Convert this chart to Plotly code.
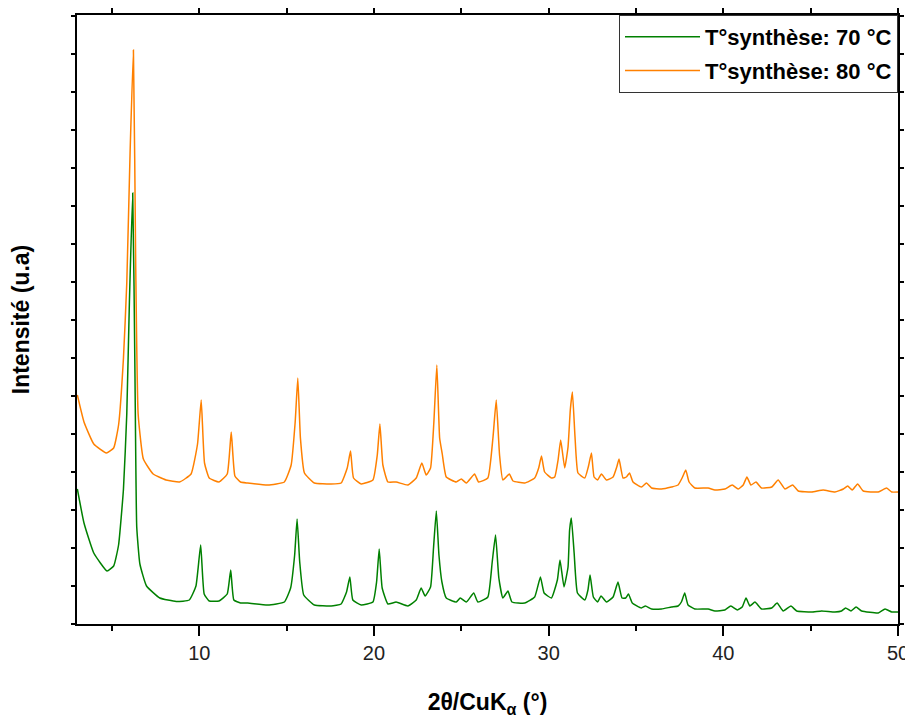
import plotly.graph_objects as go

# 2θ (°) and intensity (a.u.), synthesis at 70 °C
two_theta_70 = [3.02, 3.4, 3.96, 4.72, 5.1, 5.38, 5.66, 5.85, 6.0, 6.19, 6.32, 6.42, 6.6, 6.98, 7.74, 8.68,
                9.43, 9.81, 10.08, 10.28, 10.57, 11.13, 11.6, 11.8, 11.98, 12.36, 12.77, 13.92, 14.87, 15.23,
                15.46, 15.6, 15.75, 15.98, 16.59, 17.55, 18.12, 18.43, 18.62, 18.79, 19.27, 19.94, 20.15, 20.3,
                20.47, 20.8, 21.27, 21.94, 22.42, 22.7, 22.93, 23.24, 23.41, 23.57, 23.72, 23.89, 24.14, 24.71,
                24.94, 25.29, 25.71, 25.95, 26.52, 26.77, 26.96, 27.15, 27.38, 27.67, 27.9, 28.63, 29.2, 29.53,
                29.74, 30.16, 30.5, 30.65, 30.88, 31.11, 31.2, 31.3, 31.46, 31.65, 32.07, 32.25, 32.37, 32.56,
                32.8, 33.0, 33.31, 33.69, 33.97, 34.2, 34.41, 34.57, 34.79, 35.31, 35.54, 35.89, 36.46, 37.03,
                37.41, 37.6, 37.79, 37.98, 38.37, 39.13, 39.52, 40.09, 40.43, 40.81, 41.08, 41.3, 41.52, 41.81,
                42.19, 42.77, 43.08, 43.43, 43.87, 44.2, 45.06, 45.63, 46.39, 46.77, 47.0, 47.31, 47.6, 47.92,
                48.87, 49.26, 49.64, 50.0]
intensity_70 = [135, 101, 71, 53, 58, 79, 135, 210, 322, 431, 247, 97, 60, 38, 26, 22.5,
                24, 38, 79, 30, 23, 23, 30, 54, 24, 21, 21, 19, 22, 36,
                69, 105, 62, 29, 19, 18, 20, 32, 47, 24, 19, 22, 42, 75,
                36, 20, 22, 18, 24, 36, 28, 37, 76, 113, 69, 42, 26, 22,
                26, 22, 31, 22, 27, 62, 89, 46, 26, 33, 22, 21, 27, 47,
                31, 26, 44, 64, 37, 57, 94, 106, 71, 31, 24, 34, 49, 27,
                22, 28, 22, 27, 42, 26, 26, 30, 21, 16, 18, 15, 15, 17,
                18, 22, 31, 19, 15, 15, 13, 14, 18, 14, 17, 26, 18, 22,
                15, 16, 21, 13, 18, 13, 12, 13, 12, 13, 16, 13, 17, 13,
                11, 15, 12, 12]

# synthesis at 80 °C
two_theta_80 = [3.02, 3.4, 3.96, 4.68, 5.1, 5.38, 5.66, 5.85, 6.04, 6.23, 6.36, 6.5, 6.8, 7.36, 8.1, 8.87,
                9.53, 9.9, 10.11, 10.3, 10.57, 11.13, 11.6, 11.83, 12.04, 12.36, 12.77, 13.92, 14.87, 15.26,
                15.49, 15.64, 15.79, 16.02, 16.59, 17.55, 18.12, 18.47, 18.66, 18.83, 19.27, 19.94, 20.19, 20.34,
                20.51, 20.8, 21.27, 21.94, 22.42, 22.74, 22.99, 23.24, 23.43, 23.6, 23.76, 23.91, 24.14, 24.71,
                25.0, 25.29, 25.76, 25.99, 26.52, 26.81, 27.0, 27.19, 27.38, 27.75, 27.96, 28.63, 29.2, 29.43,
                29.59, 29.77, 30.16, 30.35, 30.54, 30.69, 30.92, 31.11, 31.24, 31.36, 31.51, 31.68, 32.07, 32.27,
                32.45, 32.6, 32.8, 33.02, 33.31, 33.69, 33.9, 34.03, 34.26, 34.45, 34.63, 34.83, 35.31, 35.6,
                35.89, 36.46, 37.03, 37.41, 37.64, 37.85, 38.04, 38.37, 39.13, 39.52, 40.09, 40.51, 40.85, 41.14,
                41.35, 41.58, 41.87, 42.19, 42.77, 43.14, 43.53, 43.97, 44.29, 45.06, 45.72, 46.39, 46.87, 47.12,
                47.38, 47.69, 48.01, 48.87, 49.35, 49.64, 50.0]
intensity_80 = [229, 202, 180, 171, 176, 199, 266, 341, 472, 574, 360, 210, 165, 150, 144, 142,
                150, 180, 224, 161, 146, 142, 150, 192, 148, 142, 141, 139, 142, 159,
                202, 246, 186, 151, 141, 140, 141, 156, 173, 146, 140, 144, 169, 200,
                159, 142, 142, 139, 146, 161, 149, 156, 202, 259, 186, 170, 147, 142,
                145, 141, 150, 142, 146, 186, 224, 169, 144, 150, 143, 141, 146, 156,
                168, 152, 146, 147, 164, 184, 156, 177, 214, 232, 187, 151, 146, 157,
                171, 147, 144, 150, 144, 147, 157, 165, 146, 147, 151, 142, 137, 141,
                136, 135, 137, 139, 146, 154, 142, 136, 136, 134, 135, 139, 135, 139,
                147, 139, 142, 136, 137, 144, 135, 139, 133, 132, 134, 132, 135, 138,
                134, 140, 133, 132, 136, 132, 132]

series_names = ["T°synthèse: 70 °C", "T°synthèse: 80 °C"]
series_colors = ["#008000", "#FF8000"]

x_ticks = [10, 20, 30, 40, 50]

fig = go.Figure()
for name, xs, ys, col, grp in [
    (series_names[0], two_theta_70, intensity_70, series_colors[0], "g70"),
    (series_names[1], two_theta_80, intensity_80, series_colors[1], "g80"),
]:
    fig.add_trace(go.Scatter(x=xs, y=ys, mode="lines", name="<b>" + name + "</b>", legendgroup=grp,
                             line=dict(color=col, width=1.5, shape="spline", smoothing=0.4)))

FONT = "Liberation Sans, Arial, sans-serif"

# the page body has an 8 px margin, so the figure is sized and offset to compensate
fig.update_layout(
    width=905, height=712,
    margin=dict(l=69, r=15, t=7, b=96, autoexpand=False),
    paper_bgcolor="white", plot_bgcolor="white",
    font=dict(family=FONT, color="black", size=20),
    showlegend=True,
    legend=dict(
        x=1, y=1, xanchor="right", yanchor="top",
        bgcolor="white", bordercolor="#333333", borderwidth=1,
        font=dict(family=FONT, size=22, color="black"),
        tracegroupgap=2, itemwidth=75,
    ),
    xaxis=dict(
        range=[3, 50], tickvals=x_ticks, ticktext=[str(v) for v in x_ticks],
        showgrid=False, zeroline=False, automargin=False,
        showline=True, linecolor="black", linewidth=2, mirror="allticks",
        ticks="outside", ticklen=10, tickwidth=2, tickcolor="black",
        tickfont=dict(family=FONT, size=20, color="#222222"),
        minor=dict(dtick=5, tick0=0, ticks="outside", ticklen=5, tickwidth=2, tickcolor="black", showgrid=False),
        title=dict(text="<b>2θ/CuK<sub>α</sub> (°)</b>", font=dict(family=FONT, size=23, color="black"),
                   standoff=31),
    ),
    yaxis=dict(
        range=[0, 609], tick0=0, dtick=38,
        showticklabels=False, showgrid=False, zeroline=False, automargin=False,
        showline=True, linecolor="black", linewidth=2, mirror="allticks",
        ticks="outside", ticklen=4, tickwidth=1.5, tickcolor="black",
        title=dict(text="<b>Intensité (u.a)</b>", font=dict(family=FONT, size=23, color="black"),
                   standoff=38),
    ),
)

fig.write_html("out.html")
